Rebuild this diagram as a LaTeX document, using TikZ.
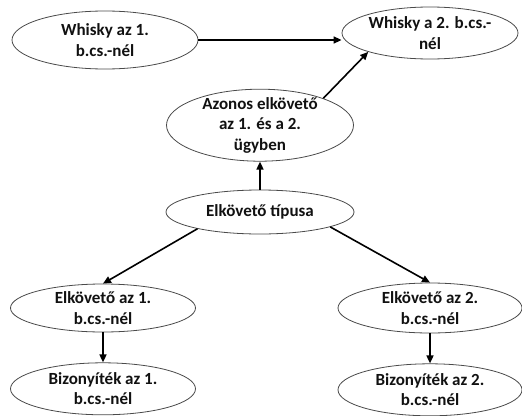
\documentclass[tikz,border=0pt]{standalone}
\usepackage{fontspec}
\setmainfont{Carlito}
\usepackage{xcolor}
\definecolor{OvalLine}{HTML}{4A4A4A}
\definecolor{NearBlack}{HTML}{111111}
\definecolor{White}{HTML}{FFFFFF}
\usepackage{tikz}
\usetikzlibrary{positioning,shapes.geometric,arrows.meta}
\newcommand{\ovfont}{\fontsize{17}{20.5}\selectfont}
\tikzset{
  ov/.style={ellipse,draw=OvalLine,line width=0.8pt,fill=White,inner xsep=0pt,
    inner ysep=-6pt,align=center,font=\bfseries\ovfont,text=NearBlack},
  link/.style={-{Triangle[length=8pt,width=7pt]},draw=black,line width=1.6pt},
}

\begin{document}
\begin{tikzpicture}[x=1pt,y=-1pt,node distance=28pt]
\useasboundingbox (0,0) rectangle (522,415);
\node[ov,minimum width=186pt,minimum height=58pt] (w1) at (105,40)
  {Whisky az 1.\\b.cs.-nél};
\node[ov,minimum width=176pt,minimum height=52pt] (w2) at (430,33)
  {Whisky a 2. b.cs.-\\nél};
\node[ov,minimum width=188pt,minimum height=44pt] (tip) at (260,212)
  {Elkövető típusa};
\node[ov,minimum width=187pt,minimum height=72pt,above=of tip] (az)
  {Azonos elkövető\\az 1. és a 2.\\ügyben};
\node[ov,minimum width=185pt,minimum height=48pt] (elk1) at (103,308)
  {Elkövető az 1.\\b.cs.-nél};
\node[ov,minimum width=184pt,minimum height=50pt] (elk2) at (430,308)
  {Elkövető az 2.\\b.cs.-nél};
\node[ov,minimum width=185pt,minimum height=52pt,below=30pt of elk1] (biz1)
  {Bizonyíték az 1.\\b.cs.-nél};
\node[ov,minimum width=184pt,minimum height=52pt,below=30pt of elk2] (biz2)
  {Bizonyíték az 2.\\b.cs.-nél};

\foreach \a/\b in {tip/az,elk1/biz1,elk2/biz2}
  \draw[link] (\a) -- (\b);
\draw[link] (w1.east) -- (w1.east -| w2.west);
\draw[link] (az.23) -- (w2.197);
\draw[link] (tip.195) -- (elk1.north);
\draw[link] (tip.348) -- (elk2.north);
\end{tikzpicture}
\end{document}
